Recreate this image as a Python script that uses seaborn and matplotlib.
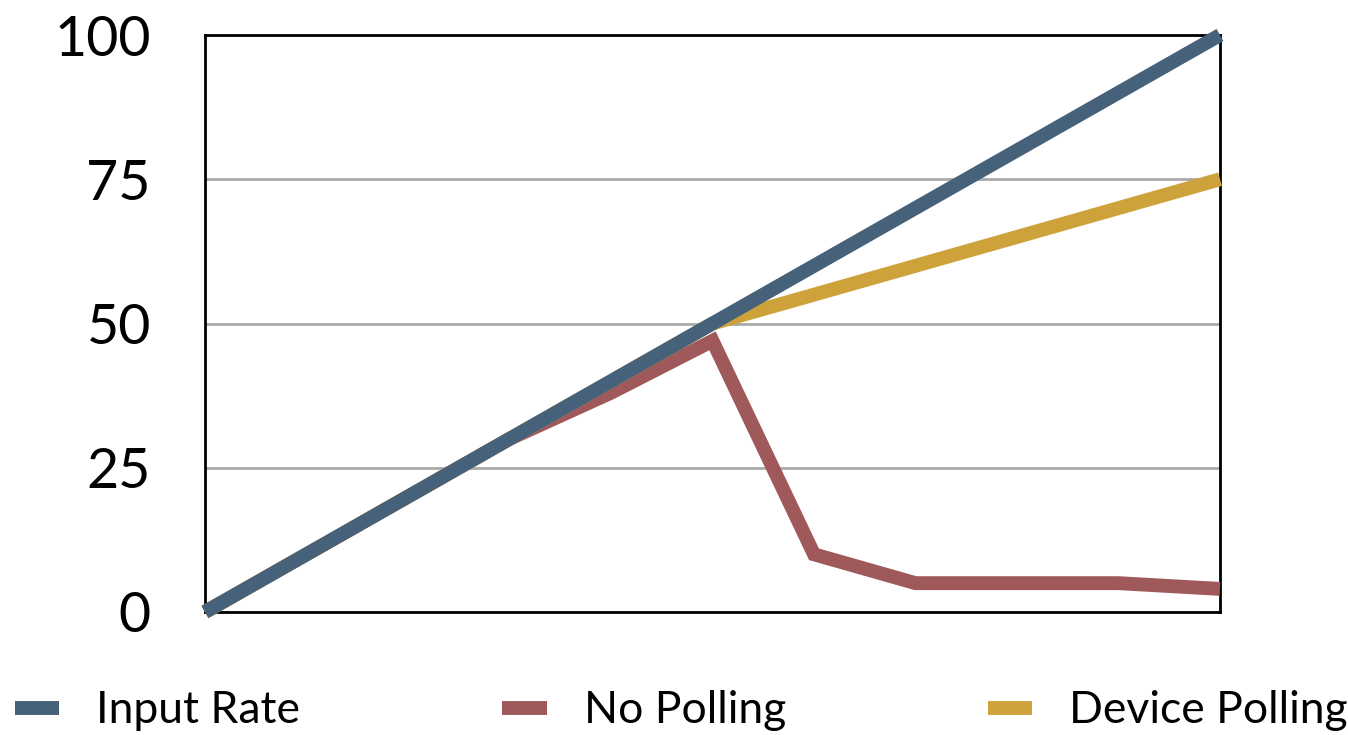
import matplotlib
matplotlib.use("Agg")
import matplotlib.pyplot as plt
import seaborn as sns
import pandas as pd
from matplotlib.lines import Line2D

x_steps = [0, 1, 2, 3, 4, 5, 6, 7, 8, 9, 10]
input_rate = [0, 10, 20, 30, 40, 50, 60, 70, 80, 90, 100]
no_polling = [0, 10, 20, 30, 38, 47, 10, 5, 5, 5, 4]
device_polling = [0, 10, 20, 30, 40, 50, 55, 60, 65, 70, 75]
series_names = ["Input Rate", "No Polling", "Device Polling"]
colors = ["#46617A", "#A0595B", "#CEA23A"]
y_ticks = [0, 25, 50, 75, 100]

sns.set_theme(style="white")
plt.rcParams['font.family'] = ['Lato', 'DejaVu Sans']
plt.rcParams['text.color'] = 'black'
plt.rcParams['ytick.color'] = 'black'

frames = []
for name, vals in zip(series_names, [input_rate, no_polling, device_polling]):
    frames.append(pd.DataFrame({"x": x_steps, "y": vals, "series": name}))
df = pd.concat(frames, ignore_index=True)

fig = plt.figure(figsize=(13.48, 7.35), dpi=100)
ax = fig.add_axes([205/1348, 1 - 612/735, (1220-205)/1348, (612-35)/735])

palette = dict(zip(series_names, colors))
sns.lineplot(data=df, x="x", y="y", hue="series", hue_order=series_names,
             palette=palette, linewidth=10, ax=ax, legend=False,
             estimator=None, sort=False)

zorders = {"Input Rate": 5, "No Polling": 3, "Device Polling": 4}
for line, name in zip(ax.get_lines(), series_names):
    line.set_zorder(zorders[name])
    line.set_clip_on(False)
    line.set_solid_capstyle("butt")
    line.set_solid_joinstyle("miter")

ax.set_xlim(0, 10)
ax.set_ylim(0, 100)
ax.set_yticks(y_ticks)
ax.set_yticklabels([str(t) for t in y_ticks], fontsize=40, color="black")
ax.set_xticks([])
ax.set_xlabel("")
ax.set_ylabel("")
ax.tick_params(axis="y", length=0, pad=39, labelcolor="black")
ax.yaxis.grid(True, color="#AAAAAA", linewidth=2)
ax.set_axisbelow(True)
for sp in ax.spines.values():
    sp.set_visible(True)
    sp.set_color("black")
    sp.set_linewidth(2)

handles = [Line2D([0], [0], color=c, linewidth=10, solid_capstyle="butt") for c in colors]
leg = fig.legend(handles, series_names, loc="lower left", ncol=3, mode="expand",
                 bbox_to_anchor=(0.011, 0.005, 0.989, 0.07), frameon=False,
                 fontsize=32, handlelength=1.0, handletextpad=0.83,
                 borderaxespad=0.0, borderpad=0.0)
for t in leg.get_texts():
    t.set_color("black")

fig.savefig("out.png", dpi=100, facecolor="white")
